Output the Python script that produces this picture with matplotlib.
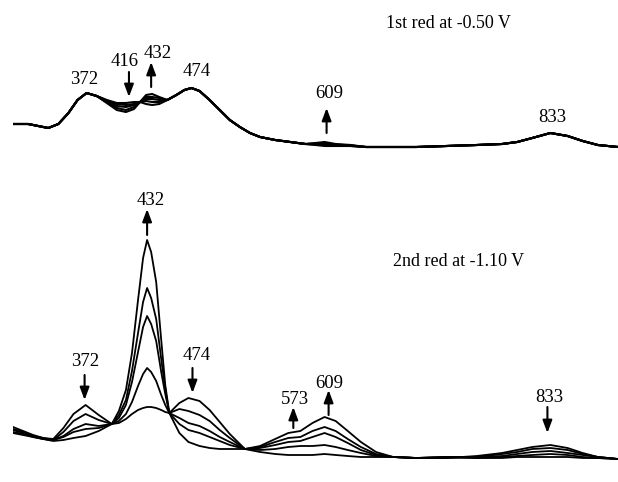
import matplotlib
matplotlib.use("Agg")
import matplotlib.pyplot as plt

plt.rcParams["font.family"] = ["Liberation Serif", "DejaVu Serif"]

# ---- 1st reduction (-0.50 V): absorbance (a.u.) vs wavelength (nm) ----
top_wl = [300, 315, 325, 335, 345, 355, 364, 373, 383, 393, 403, 412, 420,
          426, 432, 438, 445, 453, 462, 470, 477, 485, 495, 505, 515, 525,
          535, 545, 560, 575, 590, 600, 609, 620, 635, 650, 670, 700, 730,
          760, 785, 800, 815, 833, 850, 865, 880, 900]
_top_head = [36, 36, 34, 32, 36, 47, 60, 67, 64]
_top_mid = [60, 65, 70, 72, 69, 60, 50, 40, 33, 27, 23, 20, 18, 16]
_top_tail = [13, 13, 13, 14, 15, 16, 18, 22, 27, 24, 19, 15, 13]
top_a = _top_head + [60, 57, 57, 58, 58, 56, 55, 56] + _top_mid + [15, 14, 14, 14] + _top_tail
top_b = _top_head + [59.5, 56, 55, 56, 58, 59, 58, 58] + _top_mid + [15.5, 15, 14.5, 14] + _top_tail
top_c = _top_head + [59, 54, 53, 55, 58, 61, 61, 60] + _top_mid + [16, 16, 15, 14.5] + _top_tail
top_d = _top_head + [58, 52, 50, 53, 58, 63, 63, 62] + _top_mid + [16.5, 17, 15.5, 14.5] + _top_tail
top_e = _top_head + [57, 50, 48, 51, 58, 65, 66, 63] + _top_mid + [17, 18, 16, 15] + _top_tail

# ---- 2nd reduction (-1.10 V) ----
bot_wl = [300, 310, 320, 330, 340, 350, 360, 372, 385, 398, 405, 412, 418,
          424, 429, 433, 437, 442, 447, 451, 455, 465, 474, 485, 495, 505,
          515, 530, 545, 560, 573, 585, 597, 609, 620, 632, 645, 660, 677,
          700, 730, 760, 785, 800, 815, 833, 850, 865, 880, 900]
bot_a = [43, 39, 35, 32, 31, 42, 56, 65, 55, 46, 47, 51, 56, 60, 62, 63, 63,
         62, 60, 58, 57, 67, 72, 69, 60, 48, 36, 21, 18, 16, 15, 15, 15, 16,
         15, 14, 13, 13, 13, 12, 12, 14, 17, 20, 23, 25, 22, 17, 13, 11]
bot_b = [41, 38, 34, 32, 30, 38, 49, 56, 50, 46, 49, 56, 68, 84, 96, 102, 98,
         89, 75, 65, 57, 61, 59, 55, 49, 40, 32, 21, 20, 21, 23, 24, 24, 25,
         23, 20, 17, 14, 13, 12, 12, 13, 16, 18, 21, 22, 20, 16, 13, 11]
bot_c = [40, 37, 34, 31, 30, 34, 41, 46, 44, 46, 52, 65, 88, 118, 143, 154,
         146, 129, 98, 76, 57, 52, 47, 44, 39, 33, 28, 21, 22, 25, 28, 29, 33,
         37, 33, 27, 20, 15, 13, 12, 13, 13, 14, 16, 18, 19, 17, 15, 13, 11]
bot_d = [38, 36, 33, 31, 30, 33, 38, 41, 42, 46, 55, 70, 99, 137, 168, 182,
         172, 151, 111, 81, 57, 46, 40, 37, 33, 29, 25, 21, 23, 28, 32, 33, 39,
         43, 39, 31, 23, 16, 13, 12, 13, 12, 13, 14, 15, 16, 15, 13, 12, 11]
bot_e = [37, 35, 33, 31, 29, 30, 32, 34, 39, 46, 59, 80, 117, 170, 212, 230,
         218, 188, 130, 85, 57, 37, 28, 24, 22, 21, 21, 21, 24, 31, 37, 39, 47,
         53, 49, 39, 28, 18, 13, 12, 13, 12, 12, 13, 13, 13, 13, 12, 12, 11]

# labels: (text, text_wl, text_y, arrow_wl, tail_y, head_y) ; None = no arrow
top_labels = [("372", 371, 80, None, None, None),
              ("416", 411, 99, 415, 88, 63),
              ("432", 443, 107, 437, 73, 98),
              ("474", 482, 89, None, None, None),
              ("609", 614, 66, 611, 27, 52),
              ("833", 835, 42, None, None, None)]
bot_labels = [("432", 437, 269, 433, 235, 261),
              ("372", 372, 108, 371, 95, 70),
              ("474", 482, 114, 478, 102, 77),
              ("573", 580, 71, 578, 42, 63),
              ("609", 614, 87, 613, 55, 80),
              ("833", 832, 72, 830, 63, 37)]


def draw_panel(ax, wl, curves, labels, title, title_pos, lw):
    for y in curves:
        ax.plot(wl, y, color="black", linewidth=lw, solid_joinstyle="round")
    for text, tx, ty, awl, tail, head in labels:
        ax.text(tx, ty, text, ha="center", va="center", fontsize=13.5)
        if awl is not None:
            ax.annotate("", xy=(awl, head), xytext=(awl, tail),
                        arrowprops=dict(arrowstyle="-|>,head_length=0.75,head_width=0.28",
                                        color="black", lw=1.5,
                                        shrinkA=0, shrinkB=0))
    ax.text(title_pos[0], title_pos[1], title, ha="center", va="center", fontsize=13)
    ax.set_xlim(300, 900)
    ax.axis("off")


fig = plt.figure(figsize=(6.18, 4.82), dpi=100)
ax_top = fig.add_axes([13 / 618, 322 / 482, 605 / 618, 160 / 482])
ax_bot = fig.add_axes([13 / 618, 12 / 482, 605 / 618, 280 / 482])
ax_top.set_ylim(0, 160)
ax_bot.set_ylim(0, 280)

draw_panel(ax_top, top_wl, [top_a, top_b, top_c, top_d, top_e], top_labels,
           "1st red at -0.50 V", (732, 136), 1.5)
draw_panel(ax_bot, bot_wl, [bot_a, bot_b, bot_c, bot_d, bot_e], bot_labels,
           "2nd red at -1.10 V", (742, 208), 1.3)

fig.savefig("out.png", dpi=100)
plt.close(fig)
